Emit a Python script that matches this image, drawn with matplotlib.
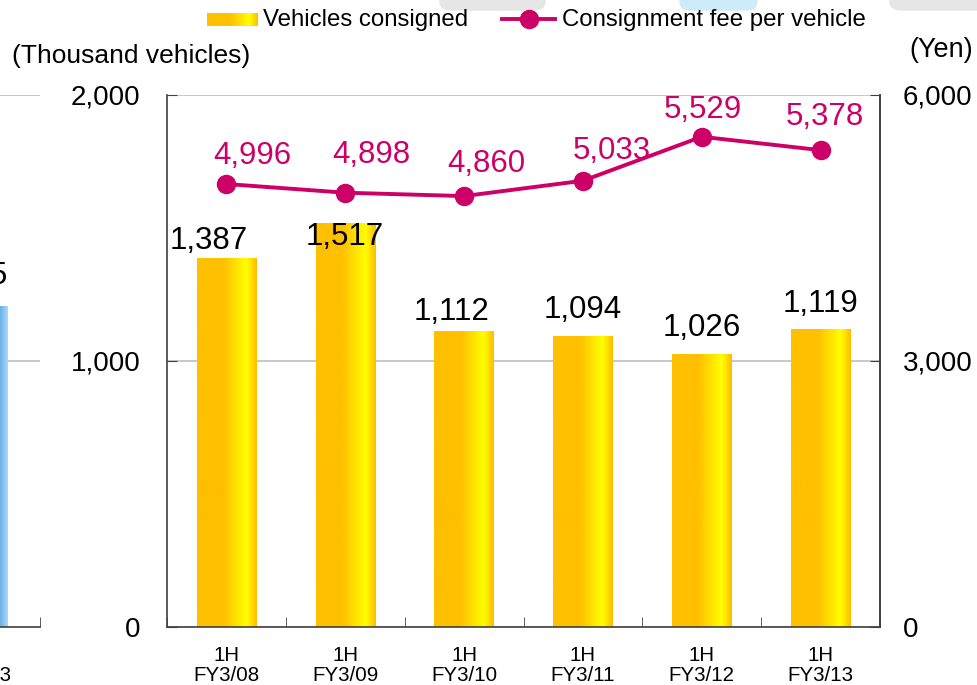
"""
Vehicles consigned (bars) and consignment fee per vehicle (line), 1H FY3/08 - FY3/13.
"""
import matplotlib
matplotlib.use("Agg")
import matplotlib.pyplot as plt
import numpy as np
from matplotlib.colors import LinearSegmentedColormap
from matplotlib.lines import Line2D
from matplotlib.patches import FancyBboxPatch

plt.rcParams["font.family"] = ["Liberation Sans", "DejaVu Sans"]

# data
periods = ["1H\nFY3/08", "1H\nFY3/09", "1H\nFY3/10", "1H\nFY3/11", "1H\nFY3/12", "1H\nFY3/13"]
vehicles = [1387, 1517, 1112, 1094, 1026, 1119]          # thousand vehicles
fee = [4996, 4898, 4860, 5033, 5529, 5378]               # yen per vehicle

# neighbouring (cropped) chart on the left
prev_period = ["1H\nFY3/13"]
prev_value = [1205]
prev_label = ["1,205"]

# label nudges in pixels (dx, baseline above mark) - hand placed in the source
bar_nudge = [(-18, 9), (0, -22), (-13, 11), (0, 18), (0, 18), (0, 17)]
fee_nudge = [(26, 20), (26, 30), (22, 24), (29, 22), (1, 19), (4, 25)]

ORANGE = "#FFC000"
YELLOW = "#FFFF00"
MAGENTA = "#CC0066"
GRID = "#BFBFBF"
SPINE = "#404040"
PT = 0.72  # points per pixel at dpi 100

W, H = 977, 685
fig = plt.figure(figsize=(W / 100, H / 100), dpi=100)

bar_cmap = LinearSegmentedColormap.from_list(
    "bar", [(0, ORANGE), (0.45, ORANGE), (0.83, YELLOW), (1.0, "#FFBA00")])
blue_cmap = LinearSegmentedColormap.from_list(
    "blue", [(0, "#4A9FE0"), (0.8, "#4A9FE0"), (0.88, "#6CB5EB"), (1.0, "#B0D8F6")])
grad = np.linspace(0, 1, 256).reshape(1, -1)


def gradient_bars(ax, bars, cmap):
    for b in bars:
        x0, y0 = b.get_x(), b.get_y()
        w, h = b.get_width(), b.get_height()
        b.set_facecolor("none")
        b.set_edgecolor("none")
        im = ax.imshow(grad, cmap=cmap, aspect="auto", extent=(x0, x0 + w, y0, y0 + h),
                       zorder=2, interpolation="bicubic")
        im.set_clip_path(b)


def px(x0, y0, x1, y1):
    # pixel box (top-left origin) -> figure fraction rect
    return [x0 / W, 1 - y1 / H, (x1 - x0) / W, (y1 - y0) / H]


# ---------- main chart ----------
ax = fig.add_axes(px(167, 95, 880, 627))
x = np.arange(len(periods))
bars = ax.bar(x, vehicles, width=0.5, zorder=2)
gradient_bars(ax, bars, bar_cmap)
ax.set_xlim(-0.5, len(periods) - 0.5)
ax.set_ylim(0, 2000)
ax.set_yticks([0, 1000, 2000])
ax.set_yticklabels(["0", "1,000", "2,000"])
ax.yaxis.grid(True, color=GRID, linewidth=1.2, zorder=0)
ax.set_axisbelow(True)
ax.set_xticks(x)
ax.set_xticklabels(periods, fontsize=14.8, linespacing=1.08)
ax.set_xticks(np.arange(len(periods) + 1) - 0.5, minor=True)
ax.tick_params(axis="x", which="major", length=0, pad=13.5)
ax.tick_params(axis="x", which="minor", length=7, direction="in", color=SPINE)
ax.tick_params(axis="y", which="major", length=7, direction="in", color=SPINE,
               labelsize=20, pad=19)
ax.spines["top"].set_visible(False)
for s in ("left", "bottom", "right"):
    ax.spines[s].set_color(SPINE)
    ax.spines[s].set_linewidth(1.2)
for xi, v, (dx, dy) in zip(x, vehicles, bar_nudge):
    ax.annotate(f"{v:,}", xy=(xi, v), xytext=(dx * PT, dy * PT), textcoords="offset points",
                ha="center", va="baseline", fontsize=22.5, zorder=4)

ax2 = ax.twinx()
ax2.set_ylim(0, 6000)
ax2.set_yticks([0, 3000, 6000])
ax2.set_yticklabels(["0", "3,000", "6,000"])
ax2.tick_params(axis="y", length=7, direction="in", color=SPINE, labelsize=20, pad=16.5)
for s in ("top", "left", "bottom"):
    ax2.spines[s].set_visible(False)
ax2.spines["right"].set_color(SPINE)
ax2.spines["right"].set_linewidth(1.2)
ax2.plot(x, fee, color=MAGENTA, linewidth=2.8, marker="o", markersize=13, zorder=5)
for xi, v, (dx, dy) in zip(x, fee, fee_nudge):
    ax2.annotate(f"{v:,}", xy=(xi, v), xytext=(dx * PT, dy * PT), textcoords="offset points",
                 ha="center", va="baseline", fontsize=22.5, color=MAGENTA)

fig.text(12 / W, 1 - 56 / H, "(Thousand vehicles)", fontsize=19, va="center", ha="left")
fig.text(973 / W, 1 - 50 / H, "(Yen)", fontsize=19.5, va="center", ha="right")

# ---------- legend ----------
lax = fig.add_axes(px(207, 13, 258, 26))
lax.imshow(grad, cmap=bar_cmap, aspect="auto", interpolation="bicubic")
lax.axis("off")
fig.text(263 / W, 1 - 20 / H, "Vehicles consigned", fontsize=17.3, va="center", ha="left")
fig.add_artist(Line2D([502 / W, 555 / W], [1 - 19 / H] * 2, color=MAGENTA, linewidth=2.8))
fig.add_artist(Line2D([529 / W], [1 - 19 / H], color=MAGENTA, marker="o", markersize=13))
fig.text(562 / W, 1 - 20 / H, "Consignment fee per vehicle", fontsize=17.3,
         va="center", ha="left")

# ---------- neighbouring chart (cut off at the left edge) ----------
ax0 = fig.add_axes(px(-100, 95, 40, 627))
b0 = ax0.bar([0], prev_value, width=0.5, zorder=2)
gradient_bars(ax0, b0, blue_cmap)
ax0.set_xlim(-0.65, 0.5167)
ax0.set_ylim(0, 2000)
ax0.set_yticks([1000, 2000])
ax0.yaxis.grid(True, color=GRID, linewidth=1.2, zorder=0)
ax0.tick_params(axis="y", length=0, labelleft=False)
ax0.set_xticks([0])
ax0.set_xticklabels(prev_period, fontsize=14.8, linespacing=1.08)
ax0.tick_params(axis="x", length=0, pad=13.5)
ax0.set_xticks([0.5167], minor=True)
ax0.tick_params(axis="x", which="minor", length=7, direction="in", color=SPINE)
for s in ("top", "left", "right"):
    ax0.spines[s].set_visible(False)
ax0.spines["bottom"].set_color(SPINE)
ax0.spines["bottom"].set_linewidth(1.2)
ax0.annotate(prev_label[0], xy=(0, prev_value[0]), xytext=(-9 * PT, 22 * PT),
             textcoords="offset points", ha="center", va="baseline", fontsize=22.5)

# ---------- cropped tabs at the top edge ----------
for (x0, x1, col) in [(440, 545, "#E6E6E6"), (680, 757, "#CDEBFA"), (890, 1010, "#E6E6E6")]:
    fig.add_artist(FancyBboxPatch((x0 / W, 1 - 10 / H), (x1 - x0) / W, 30 / H,
                                  boxstyle="round,pad=0,rounding_size=0.012",
                                  transform=fig.transFigure, color=col, zorder=0))

fig.savefig("out.png", dpi=100)
